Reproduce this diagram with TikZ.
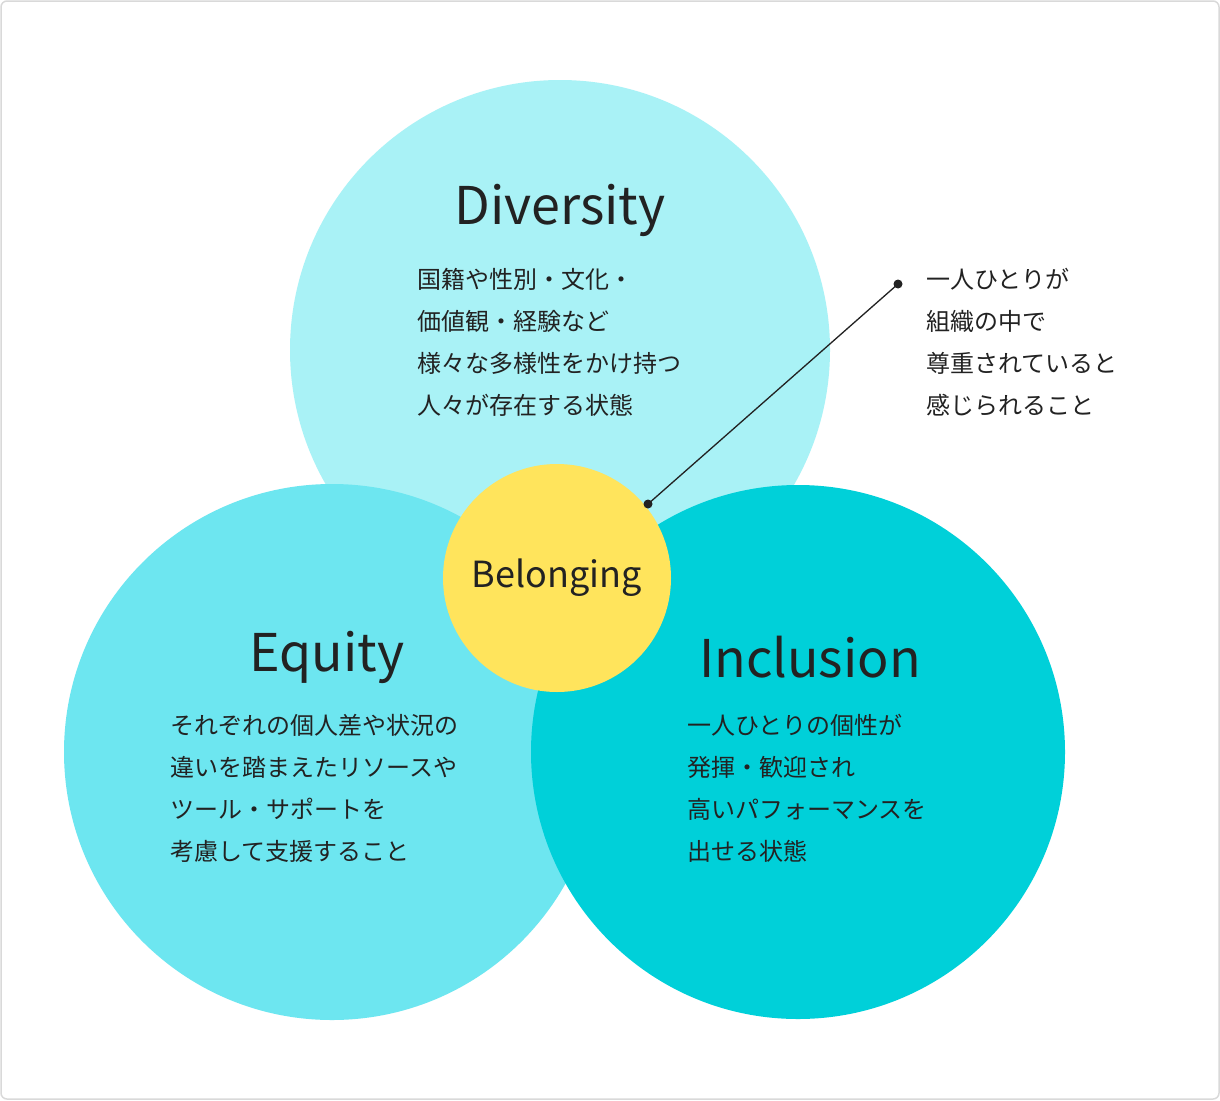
\documentclass[tikz,border=0pt]{standalone}
\usepackage{fontspec}
\setmainfont{Noto Sans CJK JP}
\definecolor{cD}{HTML}{A9F2F6}
\definecolor{cE}{HTML}{6DE6F0}
\definecolor{cI}{HTML}{00D0D9}
\definecolor{cB}{HTML}{FFE45C}
\definecolor{tx}{HTML}{222222}
\begin{document}
\begin{tikzpicture}[x=1pt,y=-1pt,
  body/.style={anchor=north west,align=left,font=\fontsize{24}{42}\selectfont,text=tx,inner sep=0pt},
  ttl/.style={font=\fontsize{52}{60}\selectfont,text=tx,inner sep=0pt}]
\useasboundingbox (0,0) rectangle (1220,1100);
\draw[draw=black!15,line width=1.5pt,fill=white,rounded corners=6pt] (1,1) rectangle (1219,1099);
\fill[cD] (560,350) circle (270);
\fill[cE] (332,752) circle (268);
\fill[cI] (798,752) circle (267);
\node[circle,fill=cB,minimum size=228pt,inner sep=0pt,font=\fontsize{36}{40}\selectfont,text=tx] (bel) at (557,578) {Belonging};
\node[ttl] (dt) at (560,210) {Diversity};
\node[ttl] (et) at (327,657) {Equity};
\node[ttl] (it) at (810,657) {Inclusion};
\node[body] (dx) at (417,268) {国籍や性別・文化・\\価値観・経験など\\様々な多様性をかけ持つ\\人々が存在する状態};
\node[body] (ex) at (170,714) {それぞれの個人差や状況の\\違いを踏まえたリソースや\\ツール・サポートを\\考慮して支援すること};
\node[body] (ix) at (687,714) {一人ひとりの個性が\\発揮・歓迎され\\高いパフォーマンスを\\出せる状態};
\node[body] (rx) at (926,268) {一人ひとりが\\組織の中で\\尊重されていると\\感じられること};
\coordinate (p1) at (898,284);
\coordinate (p2) at (648,504);
\draw[tx,line width=1.3pt] (p1) -- (p2);
\fill[tx] (p1) circle (4.5);
\fill[tx] (p2) circle (4.5);
\end{tikzpicture}
\end{document}
